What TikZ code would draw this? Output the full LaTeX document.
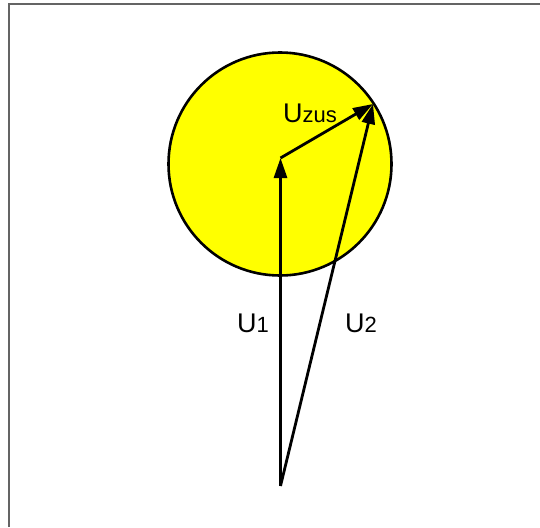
\documentclass[tikz,border=0pt]{standalone}
\usepackage{fontspec}
\setmainfont{Liberation Sans}
\usetikzlibrary{arrows.meta}
\definecolor{circfill}{RGB}{255,255,0}
\definecolor{framegray}{RGB}{100,100,100}
\tikzset{
  frameline/.style={line width=2pt, draw=framegray},
  phasor/.style={line width=2.8pt, -{Triangle[length=20pt,width=13pt]}},
  lbl/.style={inner sep=0pt, anchor=base west, font=\fontsize{27}{27}\selectfont},
  circ/.style={circle, draw=black, line width=2.6pt, fill=circfill, minimum size=223pt, inner sep=0pt}
}
\newcommand{\subsz}[1]{{\fontsize{22}{22}\selectfont #1}}
\begin{document}
\begin{tikzpicture}[x=1pt,y=-1pt]
\useasboundingbox (0,0) rectangle (540,527);
\coordinate (fb) at (8.5,527);
\coordinate (fc) at (8.5,4.5);
\coordinate (fr) at (540,4.5);
\draw[frameline] (fb) -- (fc) -- (fr);
\node[circ] (c) at (280,164) {};
\coordinate (O) at (280.5,486);
\coordinate (A) at (280.5,158);
\coordinate (B) at (373,104);
\draw[phasor] (O) -- (A);
\draw[phasor] (A) -- (B);
\draw[phasor] (O) -- (B);
\node[lbl] (l1) at (237,332) {U\subsz{1}};
\node[lbl] (l2) at (345,332) {U\subsz{2}};
\node[lbl] (lz) at (283,122.5) {U\subsz{zus}};
\end{tikzpicture}
\end{document}
